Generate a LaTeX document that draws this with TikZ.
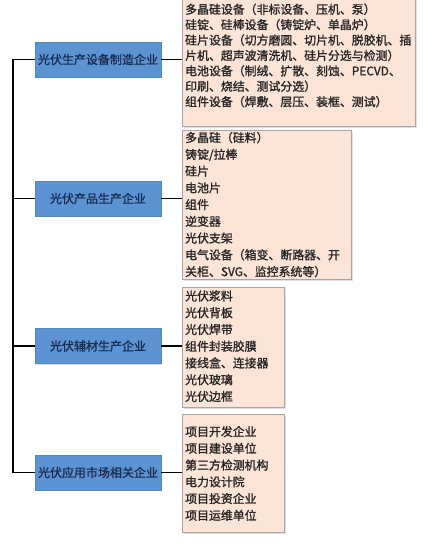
\documentclass[tikz,border=0pt]{standalone}
\usepackage{fontspec}
\setmainfont[FakeBold=1.3]{Noto Sans CJK SC}
\usetikzlibrary{shadows}
\definecolor{boxblue}{HTML}{5B93D3}
\definecolor{boxtext}{HTML}{1A2C4E}
\definecolor{peach}{HTML}{FCE4D6}
\definecolor{peachborder}{HTML}{A6A6A6}
\begin{document}
\begin{tikzpicture}[x=1pt,y=-1pt,
  cat/.style={draw=boxblue!92!black, line width=0.4pt, fill=boxblue,
    minimum width=126pt, minimum height=35pt, inner sep=0pt,
    font=\fontsize{12}{14}\selectfont, text=boxtext,
    drop shadow={shadow xshift=1pt,shadow yshift=-1.2pt,opacity=0.25}},
  detail/.style={draw=peachborder, fill=peach, line width=0.6pt,
    anchor=north west, inner sep=0pt,
    drop shadow={shadow xshift=1.2pt,shadow yshift=-1.2pt,opacity=0.25}},
  txt/.style={anchor=west, inner sep=0pt, font=\fontsize{11.9}{14}\selectfont,
    text=black!85, text height=0.86em, text depth=0.1em},
  link/.style={line width=1.3pt, black}]
\useasboundingbox (0,0) rectangle (432,544);
\fill[white] (0,0) rectangle (432,544);

% category boxes
\node[cat] (b1) at (98,59.5) {光伏生产设备制造企业};
\node[cat] (b2) at (98,198.5) {光伏产品生产企业};
\node[cat] (b3) at (98,346) {光伏辅材生产企业};
\node[cat] (b4) at (98,472.5) {光伏应用市场相关企业};

% detail boxes
\node[detail, minimum width=233pt, minimum height=129pt] (d1) at (182,-3) {};
\node[detail, minimum width=169pt, minimum height=149pt] (d2) at (182,130) {};
\node[detail, minimum width=102pt, minimum height=120pt] (d3) at (182,287) {};
\node[detail, minimum width=102pt, minimum height=118pt] (d4) at (182,414) {};

% texts
\foreach \t [count=\i] in {多晶硅设备（非标设备、压机、泵）,
  硅锭、硅棒设备（铸锭炉、单晶炉）,
  硅片设备（切方磨圆、切片机、脱胶机、插,
  片机、超声波清洗机、硅片分选与检测）,
  电池设备（制绒、扩散、刻蚀、PECVD、,
  印刷、烧结、测试分选）,
  组件设备（焊敷、层压、装框、测试）}
  \node[txt] (d1t\i) at (185,{10+(\i-1)*15.4}) {\t};

\foreach \t [count=\i] in {多晶硅（硅料）, 铸锭/拉棒, 硅片, 电池片, 组件, 逆变器, 光伏支架,
  电气设备（箱变、断路器、开, 关柜、SVG、监控系统等）}
  \node[txt] (d2t\i) at (185,{138.3+(\i-1)*16.75}) {\t};

\foreach \t [count=\i] in {光伏浆料, 光伏背板, 光伏焊带, 组件封装胶膜, 接线盒、连接器, 光伏玻璃, 光伏边框}
  \node[txt] (d3t\i) at (185,{296.7+(\i-1)*16.75}) {\t};

\foreach \t [count=\i] in {项目开发企业, 项目建设单位, 第三方检测机构, 电力设计院, 项目投资企业, 项目运维单位}
  \node[txt] (d4t\i) at (185,{432.3+(\i-1)*16.75}) {\t};

% connectors
\coordinate (top) at (13,59.5);
\coordinate (bot) at (13,472.5);
\draw[link] (b1.west) -- (top) -- (bot) -- (b4.west);
\draw[link] (b2.west) -- (b2.west -| top);
\draw[link] (b3.west) -- (b3.west -| top);
\draw[link] (b1.east) -- (b1.east -| d1.west);
\draw[link] (b2.east) -- (b2.east -| d2.west);
\draw[link] (b3.east) -- (b3.east -| d3.west);
\draw[link] (b4.east) -- (b4.east -| d4.west);
\end{tikzpicture}
\end{document}
